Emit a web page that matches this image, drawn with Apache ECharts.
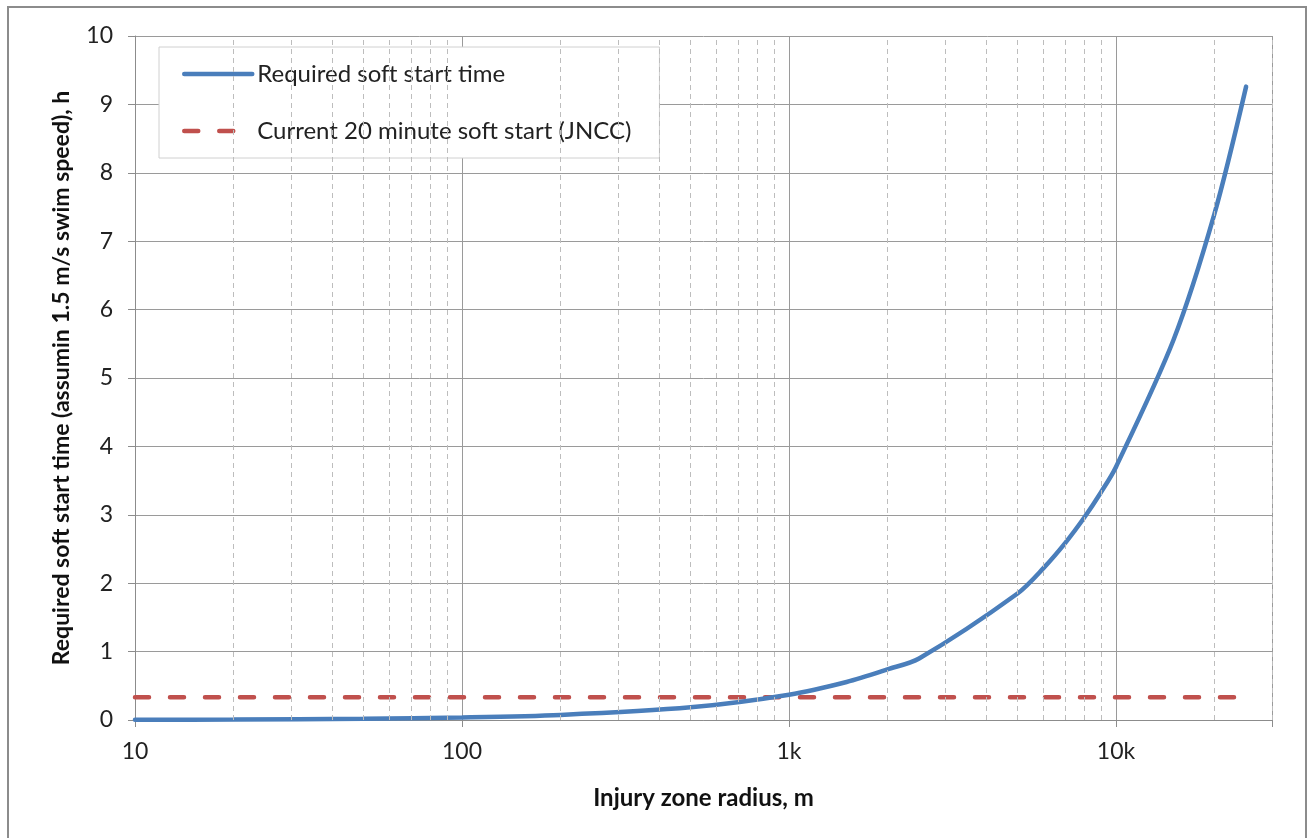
<!DOCTYPE html>
<html>
<head>
<meta charset="utf-8">
<script src="https://cdn.jsdelivr.net/npm/echarts@6/dist/echarts.min.js"></script>
<style>
html,body{margin:0;padding:0;background:#fff;}
#c{width:1311px;height:838px;}
</style>
</head>
<body>
<div id="c"></div>
<script>
// Data
const radius = [10, 20, 50, 100, 200, 500, 1000, 1500, 2000, 2500, 5000, 6000, 7000, 8000, 9000, 10000, 15000, 20000, 25000];
const softStartHours = [0.004, 0.007, 0.019, 0.037, 0.074, 0.185, 0.37, 0.556, 0.74, 0.9, 1.85, 2.22, 2.59, 2.96, 3.33, 3.7, 5.56, 7.4, 9.26];
const jnccRadius = [10, 25000];
const jnccHours = [0.333, 0.333];
const minorGrid = [20,30,40,50,60,70,80,90,200,300,400,500,600,700,800,900,2000,3000,4000,5000,6000,7000,8000,9000,20000,30000];
const seriesNames = ['Required soft start time', 'Current 20 minute soft start (JNCC)'];
const xLabels = {10:'10', 100:'100', 1000:'1k', 10000:'10k'};

const FONT = 'Lato, "Open Sans", sans-serif';
const chart = echarts.init(document.getElementById('c'), null, {renderer:'canvas'});
chart.setOption({
  animation: false,
  backgroundColor: '#fff',
  graphic: [{
    type: 'rect', shape: {x: 8, y: 7, width: 1298, height: 845},
    style: {fill: 'none', stroke: '#8c8c8c', lineWidth: 2}, silent: true, z: 100
  }],
  grid: {left: 135, right: 39, top: 36, bottom: 118, containLabel: false},
  legend: {
    orient: 'vertical', left: 159, top: 47,
    padding: [15, 28, 15, 23], itemGap: 33,
    itemWidth: 68, itemHeight: 20,
    backgroundColor: '#fff', borderColor: '#d0d0d0', borderWidth: 1,
    itemStyle: {opacity: 0, borderWidth: 0},
    lineStyle: {width: 4.5},
    textStyle: {fontFamily: FONT, fontSize: 24, color: '#222'},
    data: seriesNames
  },
  xAxis: {
    type: 'log', logBase: 10, min: 10, max: 30000,
    name: 'Injury zone radius, m', nameLocation: 'middle', nameGap: 66,
    nameTextStyle: {fontFamily: FONT, fontSize: 24, fontWeight: 'bold', color: '#111'},
    axisLine: {show: true, lineStyle: {color: '#8c8c8c', width: 1}},
    axisTick: {show: true, length: 7, lineStyle: {color: '#8c8c8c'}},
    axisLabel: {fontFamily: FONT, fontSize: 23, color: '#222', margin: 20,
      formatter: v => (xLabels[Math.round(v)] !== undefined ? xLabels[Math.round(v)] : '')},
    splitLine: {show: true, lineStyle: {color: '#9a9a9a', width: 1}}
  },
  yAxis: {
    type: 'value', min: 0, max: 10, interval: 1,
    name: 'Required soft start time (assumin 1.5 m/s swim speed), h',
    nameLocation: 'middle', nameRotate: 90, nameGap: 62,
    nameTextStyle: {fontFamily: FONT, fontSize: 23, fontWeight: 'bold', color: '#111'},
    axisLine: {show: true, lineStyle: {color: '#8c8c8c', width: 1}},
    axisTick: {show: true, length: 7, lineStyle: {color: '#8c8c8c'}},
    axisLabel: {fontFamily: FONT, fontSize: 23, color: '#222', margin: 22},
    splitLine: {show: true, lineStyle: {color: '#9a9a9a', width: 1}}
  },
  series: [
    {
      name: 'minor', type: 'line', data: [], silent: true, legendHoverLink: false,
      markLine: {
        silent: true, symbol: 'none', label: {show: false},
        lineStyle: {color: '#bdbdbd', type: [5, 4], width: 1},
        data: minorGrid.map(v => ({xAxis: v}))
      },
      z: 1
    },
    {
      name: seriesNames[0], type: 'line', smooth: 0.3, showSymbol: false, symbol: 'none',
      data: radius.map((r, i) => [r, softStartHours[i]]),
      lineStyle: {color: '#4a7ebb', width: 4.5, cap: 'round'},
      itemStyle: {color: '#4a7ebb'},
      z: 4
    },
    {
      name: seriesNames[1], type: 'line', showSymbol: false, symbol: 'none',
      data: jnccRadius.map((r, i) => [r, jnccHours[i]]),
      lineStyle: {color: '#c0504d', width: 4.5, type: [14, 21], cap: 'round'},
      itemStyle: {color: '#c0504d'},
      z: 3
    }
  ]
});
</script>
</body>
</html>
